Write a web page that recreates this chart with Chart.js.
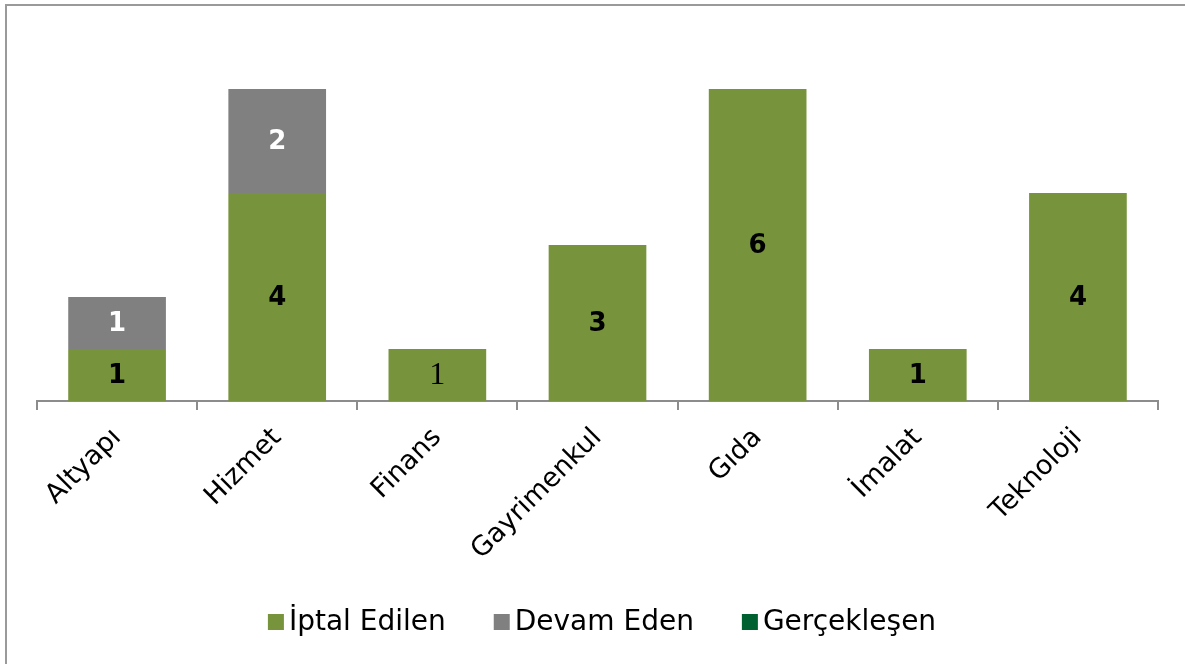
<!DOCTYPE html>
<html>
<head>
<meta charset="utf-8">
<script src="https://cdn.jsdelivr.net/npm/chart.js@4"></script>
<style>
html,body{margin:0;padding:0;background:#fff;}
#wrap{width:1185px;height:664px;position:relative;}
</style>
</head>
<body>
<div id="wrap"><canvas id="c" width="1185" height="664"></canvas></div>
<script>
const categories = ["Altyapı", "Hizmet", "Finans", "Gayrimenkul", "Gıda", "İmalat", "Teknoloji"];
const iptalEdilen = [1, 4, 1, 3, 6, 1, 4];
const devamEden = [1, 2, 0, 0, 0, 0, 0];
const gerceklesen = [0, 0, 0, 0, 0, 0, 0];
const seriesNames = ["İptal Edilen", "Devam Eden", "Gerçekleşen"];
const yMax = 6;

const FONT = "'DejaVu Sans', Verdana, sans-serif";

const frame = {
  id: 'frame',
  beforeDraw(chart) {
    const ctx = chart.ctx;
    ctx.save();
    ctx.fillStyle = '#fff';
    ctx.fillRect(0, 0, chart.width, chart.height);
    ctx.strokeStyle = '#9a9a9a';
    ctx.lineWidth = 2;
    ctx.beginPath();
    ctx.moveTo(6, chart.height);
    ctx.lineTo(6, 5);
    ctx.lineTo(chart.width, 5);
    ctx.stroke();
    ctx.restore();
  }
};

const valueLabels = {
  id: 'valueLabels',
  afterDatasetsDraw(chart) {
    const ctx = chart.ctx;
    ctx.save();
    ctx.textAlign = 'center';
    ctx.textBaseline = 'middle';
    chart.data.datasets.forEach((ds, di) => {
      const meta = chart.getDatasetMeta(di);
      meta.data.forEach((bar, i) => {
        const v = ds.data[i];
        if (!v) return;
        const y = (bar.y + bar.base) / 2;
        if (di === 0 && categories[i] === "Finans") {
          ctx.font = "32px 'Liberation Serif', 'Times New Roman', serif";
        } else {
          ctx.font = "bold 26px " + FONT;
        }
        ctx.fillStyle = di === 1 ? '#ffffff' : '#000000';
        ctx.fillText(String(v), bar.x, y + 1);
      });
    });
    ctx.restore();
  }
};

const customLegend = {
  id: 'customLegend',
  afterDraw(chart) {
    const ctx = chart.ctx;
    ctx.save();
    ctx.font = "28px " + FONT;
    ctx.textBaseline = 'middle';
    ctx.textAlign = 'left';
    const box = 16, gapBoxText = 5, gapItems = 48, cy = 622, centerX = 602;
    const items = chart.data.datasets.map(ds => ({ text: ds.label, color: ds.backgroundColor, w: ctx.measureText(ds.label).width }));
    const total = items.reduce((s, it) => s + box + gapBoxText + it.w, 0) + gapItems * (items.length - 1);
    let x = centerX - total / 2;
    items.forEach(it => {
      ctx.fillStyle = it.color;
      ctx.fillRect(x, cy - box / 2, box, box);
      x += box + gapBoxText;
      ctx.fillStyle = '#000';
      ctx.fillText(it.text, x, cy + 1);
      x += it.w + gapItems;
    });
    ctx.restore();
  }
};

new Chart(document.getElementById('c'), {
  type: 'bar',
  data: {
    labels: categories,
    datasets: [
      { label: seriesNames[0], data: iptalEdilen, backgroundColor: '#77933C' },
      { label: seriesNames[1], data: devamEden, backgroundColor: '#808080' },
      { label: seriesNames[2], data: gerceklesen, backgroundColor: '#00602F' }
    ]
  },
  options: {
    responsive: false,
    animation: false,
    devicePixelRatio: 1,
    layout: { padding: { left: 37, right: 27, top: 89, bottom: 80 } },
    datasets: { bar: { barPercentage: 0.61, categoryPercentage: 1.0 } },
    scales: {
      x: {
        stacked: true,
        border: { display: true, color: '#8c8c8c', width: 2 },
        grid: { display: true, drawOnChartArea: false, drawTicks: true, tickLength: 9, color: '#8c8c8c', lineWidth: 2, offset: true },
        ticks: { color: '#000', font: { family: FONT, size: 27 }, minRotation: 45, maxRotation: 45, padding: 12, autoSkip: false },
        afterFit(scale) { scale.height = 183; }
      },
      y: {
        stacked: true,
        display: false,
        min: 0,
        max: yMax
      }
    },
    plugins: {
      legend: { display: false },
      tooltip: { enabled: false }
    }
  },
  plugins: [frame, valueLabels, customLegend]
});
</script>
</body>
</html>
